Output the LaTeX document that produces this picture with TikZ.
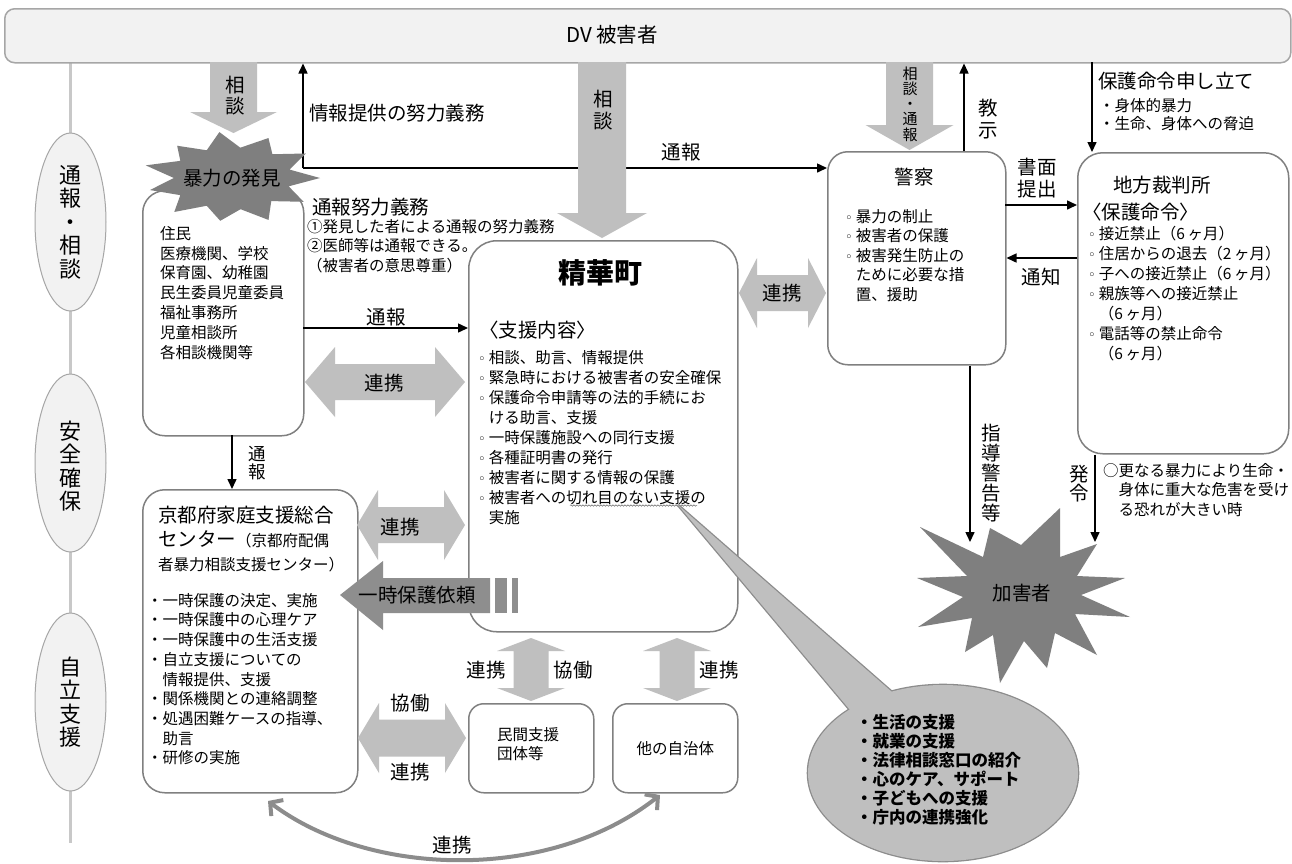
\documentclass[tikz,border=0pt]{standalone}
\usepackage{fontspec}
\setmainfont{Noto Sans CJK JP}
\newfontfamily\djv{DejaVu Sans}
\usetikzlibrary{arrows.meta,shapes.geometric,decorations.pathmorphing,calc}
\definecolor{arrgray}{HTML}{BFBFBF}
\definecolor{midgray}{HTML}{8E8E8E}
\definecolor{burstgray}{HTML}{7F7F7F}
\definecolor{boxline}{HTML}{808080}
\definecolor{ellfill}{HTML}{F2F2F2}
\definecolor{ellline}{HTML}{A6A6A6}
\definecolor{lightline}{HTML}{C8C8C8}
\definecolor{calloutline}{HTML}{8C8C8C}
\definecolor{calloutfill}{HTML}{BFBFBF}
\definecolor{curvegray}{HTML}{8C8C8C}
\newcommand\fs{\fontsize{15.5}{19.8}\selectfont}
\newcommand\fl{\fontsize{19.5}{23}\selectfont}
\newcommand\cb{{\djv\fontsize{13}{13}\selectfont ◦}\hspace{3pt}}
\newcommand\mon{（6\,ヶ月）}
% block arrows
\newcommand\dharr[7][arrgray]{%
  \fill[#1] (#2,#4) -- ({#2+#7},{#4-#5/2}) -- ({#2+#7},{#4-#6/2}) -- ({#3-#7},{#4-#6/2}) -- ({#3-#7},{#4-#5/2}) -- (#3,#4) -- ({#3-#7},{#4+#5/2}) -- ({#3-#7},{#4+#6/2}) -- ({#2+#7},{#4+#6/2}) -- ({#2+#7},{#4+#5/2}) -- cycle;}
\newcommand\dvarr[7][arrgray]{%
  \fill[#1] (#2,#3) -- ({#2+#5/2},{#3+#7}) -- ({#2+#6/2},{#3+#7}) -- ({#2+#6/2},{#4-#7}) -- ({#2+#5/2},{#4-#7}) -- (#2,#4) -- ({#2-#5/2},{#4-#7}) -- ({#2-#6/2},{#4-#7}) -- ({#2-#6/2},{#3+#7}) -- ({#2-#5/2},{#3+#7}) -- cycle;}
\newcommand\sdarr[7][arrgray]{%
  \fill[#1] ({#2-#6/2},#3) -- ({#2-#6/2},{#4-#7}) -- ({#2-#5/2},{#4-#7}) -- (#2,#4) -- ({#2+#5/2},{#4-#7}) -- ({#2+#6/2},{#4-#7}) -- ({#2+#6/2},#3) -- cycle;}
\begin{document}
\begin{tikzpicture}[x=1pt,y=-1pt,
  box/.style={draw=boxline,line width=1.5pt,fill=white,inner sep=0pt,anchor=north west},
  txt/.style={inner sep=0pt,align=left,anchor=north west},
  lbl/.style={inner sep=0pt,align=center},
  arr/.style={line width=1.5pt,-{Triangle[length=10pt,width=9pt]}},
  ell/.style={ellipse,draw=ellline,fill=ellfill,line width=1pt,minimum width=71pt,minimum height=178pt,inner sep=0pt}]
\useasboundingbox (0,0) rectangle (1292,863);
\fill[white] (0,0) rectangle (1292,863);

% ---- left timeline
\draw[line width=3pt,color=lightline] (70.5,62) -- (70.5,843);
\node[ell] (e1) at (70.5,222) {};
\node[lbl,font=\fontsize{22}{23.5}\selectfont] at (e1) {通\\報\\・\\相\\談};
\node[ell] (e2) at (70.5,463) {};
\node[lbl,font=\fontsize{22}{23.5}\selectfont] at (70.5,466) {安\\全\\確\\保};
\node[ell] (e3) at (70.5,702) {};
\node[lbl,font=\fontsize{22}{23.5}\selectfont] at (e3) {自\\立\\支\\援};

% ---- banner
\node[draw=ellline,fill=ellfill,line width=1.5pt,rounded corners=10pt,minimum width=1286pt,minimum height=54pt,anchor=north west,inner sep=0pt] (banner) at (4,8) {};
\node[lbl,font=\fontsize{20.5}{22}\selectfont] at (612,35) {DV 被害者};

% ---- boxes
\node[box,rounded corners=22pt,minimum width=161pt,minimum height=245pt] (jumin) at (142,190) {};
\node[box,rounded corners=28pt,minimum width=269pt,minimum height=391pt] (seika) at (468,240) {};
\node[box,rounded corners=20pt,minimum width=178pt,minimum height=213pt] (police) at (827,151) {};
\node[box,rounded corners=25pt,minimum width=211pt,minimum height=301pt] (court) at (1077,152) {};
\node[box,rounded corners=22pt,minimum width=215pt,minimum height=303pt] (kyoto) at (142,489) {};
\node[box,rounded corners=15pt,minimum width=125pt,minimum height=89pt] (minkan) at (468,703) {};
\node[box,rounded corners=15pt,minimum width=125pt,minimum height=89pt] (tajichi) at (612,703) {};

% ---- black arrows
\coordinate (j) at (303,168);
\draw[arr] (j) -- (j |- banner.south);
\draw[arr] (j) -- (j -| police.west);
\node[txt,anchor=west,font=\fl] at (309,113) {情報提供の努力義務};
\node[lbl,font=\fl] at (681,152) {通報};

\coordinate (t1) at (303,328);
\draw[arr] (t1) -- (t1 -| seika.west);
\node[lbl,font=\fl] at (386,317) {通報};

\coordinate (t2) at (232,435);
\draw[arr] (t2) -- (t2 |- kyoto.north);
\node[lbl,font=\fontsize{17.5}{18}\selectfont] at (257,463) {通\\報};

\coordinate (k) at (964,151);
\draw[arr] (k) -- (k |- banner.south);
\node[lbl,font=\fontsize{19.5}{22}\selectfont] at (988,119) {教\\示};

\coordinate (s) at (1005,205);
\draw[arr] (s) -- (s -| court.west);
\node[lbl,font=\fontsize{19.5}{22}\selectfont] at (1037,178) {書面\\提出};

\coordinate (n) at (1077,258);
\draw[arr] (n) -- (n -| police.east);
\node[lbl,font=\fl] at (1041,277) {通知};

\coordinate (h) at (1092,62);
\draw[arr] (h) -- (h |- court.north);
\node[txt,anchor=west,font=\fl] at (1098,81) {保護命令申し立て};
\node[txt,font=\fontsize{15.5}{18.5}\selectfont] at (1099,98) {・身体的暴力\\・生命、身体への脅迫};

\coordinate (g) at (970,542);
\draw[arr] (g |- police.south) -- (g);
\node[lbl,font=\fontsize{19.5}{20}\selectfont] at (991,473) {指\\導\\警\\告\\等};

\coordinate (f) at (1095,542);
\draw[arr] (f |- court.south) -- (f);
\node[lbl,font=\fontsize{19.5}{19}\selectfont] at (1079,484) {発\\令};
\node[txt,font=\fontsize{15.5}{19.5}\selectfont] at (1103,463) {○更なる暴力により生命・\\\hspace*{15.5pt}身体に重大な危害を受け\\\hspace*{15.5pt}る恐れが大きい時};

% ---- gray block arrows
\sdarr{233.5}{62}{133}{87}{47}{21}
\node[lbl,font=\fontsize{19.5}{21}\selectfont] at (235,96) {相\\談};
\sdarr{602}{62}{238}{90}{48}{25}
\node[lbl,font=\fontsize{19.5}{22}\selectfont] at (603,110) {相\\談};
\sdarr{909.5}{62}{150}{88}{47}{25}
\node[lbl,font=\fontsize{15}{15.3}\selectfont] at (910,104) {相\\談\\・\\通\\報};

\dharr{305}{465}{382}{70}{36}{30}
\node[lbl,font=\fl] at (384,383) {連携};
\dharr{357}{465}{525}{70}{36}{21}
\node[lbl,font=\fl] at (400,527) {連携};
\dharr{739}{826}{293}{70}{36}{18}
\node[lbl,font=\fl] at (782,293) {連携};
\dharr{358}{466}{738}{70}{37}{21}
\node[lbl,font=\fl] at (410,703) {協働};
\node[lbl,font=\fl] at (410,772) {連携};
\dvarr{531}{638}{701}{68}{35}{13}
\node[lbl,font=\fl] at (486,670) {連携};
\node[lbl,font=\fl] at (573,670) {協働};
\dvarr{677}{638}{701}{68}{35}{13}
\node[lbl,font=\fl] at (719,670) {連携};

% ---- texts in boxes
\node[txt,font=\fs] at (160,226) {住民\\医療機関、学校\\保育園、幼稚園\\民生委員児童委員\\福祉事務所\\児童相談所\\各相談機関等};
\node[txt,anchor=west,font=\fl] at (312,207) {通報努力義務};
\node[txt,font=\fontsize{15.5}{19.5}\selectfont] at (307,219) {①発見した者による通報の努力義務\\②医師等は通報できる。\\（被害者の意思尊重）};

\node[lbl,font=\fontsize{28}{30}\selectfont\bfseries] at (600,273) {精華町};
\node[txt,anchor=west,font=\fl] at (479,330) {〈支援内容〉};
\node[txt,font=\fontsize{15.5}{20}\selectfont] at (478,350) {\cb 相談、助言、情報提供\\\cb 緊急時における被害者の安全確保\\\cb 保護命令申請等の法的手続にお\\\hphantom{\cb}ける助言、支援\\\cb 一時保護施設への同行支援\\\cb 各種証明書の発行\\\cb 被害者に関する情報の保護\\\cb 被害者への切れ目のない支援の\\\hphantom{\cb}実施};
\draw[decorate,decoration={snake,amplitude=0.7pt,segment length=3pt},color=black!60,line width=0.5pt] (570,505.5) -- (697,505.5);

\node[lbl,font=\fl] at (914,177) {警察};
\node[txt,font=\fontsize{15.5}{19.6}\selectfont] at (845,209) {\cb 暴力の制止\\\cb 被害者の保護\\\cb 被害発生防止の\\\hphantom{\cb}ために必要な措\\\hphantom{\cb}置、援助};

\node[txt,anchor=west,font=\fl] at (1113,185) {地方裁判所};
\node[txt,anchor=west,font=\fl] at (1082,212) {〈保護命令〉};
\node[txt,font=\fontsize{15.5}{20}\selectfont] at (1088,226) {\cb 接近禁止\mon\\\cb 住居からの退去（2\,ヶ月）\\\cb 子への接近禁止\mon\\\cb 親族等への接近禁止\\\hphantom{\cb}\mon\\\cb 電話等の禁止命令\\\hphantom{\cb}\mon};

\node[txt,font=\fontsize{19.5}{24}\selectfont] at (158,506) {京都府家庭支援総合\\センター{\fs（京都府配偶}\\{\fs 者暴力相談支援センター）}};
\node[txt,font=\fontsize{15.5}{19.7}\selectfont] at (147,593) {・一時保護の決定、実施\\・一時保護中の心理ケア\\・一時保護中の生活支援\\・自立支援についての\\\hphantom{・}情報提供、支援\\・関係機関との連絡調整\\・処遇困難ケースの指導、\\\hphantom{・}助言\\・研修の実施};

\node[txt,font=\fontsize{15.5}{19}\selectfont] at (497,727) {民間支援\\団体等};
\node[lbl,font=\fontsize{15.5}{19}\selectfont] at (tajichi) {他の自治体};

% ---- 一時保護依頼
\fill[midgray] (340,595) -- (383,561) -- (383,578) -- (490,578) -- (490,613) -- (383,613) -- (383,630) -- cycle;
\fill[midgray] (495,578) rectangle (507,613);
\fill[midgray] (512,578) rectangle (518,613);
\node[lbl,font=\fl] at (417,595) {一時保護依頼};

% ---- bursts
\fill[burstgray] ({232+88},178) \foreach \a/\r in {16/0.67,33/0.97,49/0.68,66/1.02,82/0.7,98/0.96,115/0.68,131/1.0,147/0.7,164/0.97,180/0.66,196/1.02,213/0.7,229/0.95,245/0.68,262/1.03,278/0.68,295/0.98,311/0.7,327/1.0,344/0.68} { -- ({232+88*\r*cos(\a)},{178+45*\r*sin(\a)}) } -- cycle;
\node[lbl,font=\fl] (hakken) at (232,178) {暴力の発見};

\fill[burstgray] (1060,508) -- (1060,557) -- (1097,544) -- (1077,576) -- (1125,578) -- (1081,595) -- (1130,617) -- (1075,614) -- (1097,655) -- (1055,633) -- (1047,668) -- (1024,641) -- (1000,683) -- (993,635) -- (965,652) -- (972,618) -- (918,627) -- (963,597) -- (917,578) -- (967,576) -- (920,527) -- (983,557) -- (990,528) -- (1021,545) -- cycle;
\node[lbl,font=\fl] (kagai) at (1022,593) {加害者};

% ---- callout
\draw[calloutline,line width=2.6pt] (943,773) ellipse [x radius=135,y radius=88];
\draw[calloutline,line width=2.6pt] (678,505) -- (850,710) -- (892,692) -- cycle;
\fill[calloutfill] (943,773) ellipse [x radius=135,y radius=88];
\fill[calloutfill] (678,505) -- (850,710) -- (892,692) -- cycle;
\node[txt,font=\fontsize{16.5}{19}\selectfont\bfseries] (callout) at (856,714) {・生活の支援\\・就業の支援\\・法律相談窓口の紹介\\・心のケア、サポート\\・子どもへの支援\\・庁内の連携強化};

% ---- curved arrow
\coordinate (c1) at (268,801);
\coordinate (c2) at (660,795);
\draw[curvegray,line width=4pt,{Straight Barb[length=9pt,width=20pt]}-{Straight Barb[length=9pt,width=20pt]}] (c1) .. controls (370,878) and (550,882) .. (c2);
\node[lbl,font=\fl] at (452,845) {連携};
\end{tikzpicture}
\end{document}
